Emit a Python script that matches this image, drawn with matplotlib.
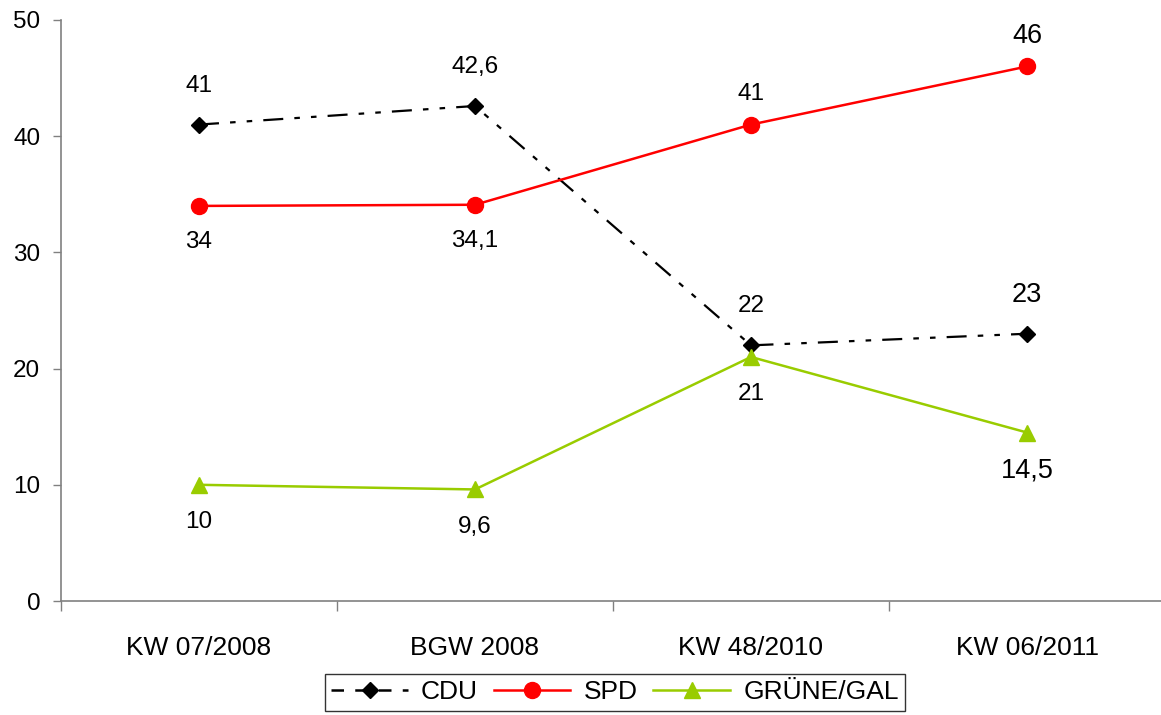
import numpy as np
import matplotlib
matplotlib.use('Agg')
from matplotlib import pyplot as plt
from matplotlib.lines import Line2D

plt.rcParams['font.family'] = ['Liberation Sans', 'DejaVu Sans']

categories = ['KW 07/2008', 'BGW 2008', 'KW 48/2010', 'KW 06/2011']
cdu = [41, 42.6, 22, 23]
spd = [34, 34.1, 41, 46]
gruene = [10, 9.6, 21, 14.5]
cdu_labels = ['41', '42,6', '22', '23']
spd_labels = ['34', '34,1', '41', '46']
gruene_labels = ['10', '9,6', '21', '14,5']

fig = plt.figure(figsize=(11.61, 7.15), dpi=100)
ax = fig.add_axes([61/1161, 114/715, 1104/1161, 581/715])

x = np.arange(len(categories))

l1, = ax.plot(x, cdu, color='black', lw=1.6, marker='D', ms=8.5,
              dashes=(9, 5, 2.5, 5, 2.5, 5), label='CDU')
l2, = ax.plot(x, spd, color='#FF0000', lw=1.8, marker='o', ms=11.5, label='SPD')
l3, = ax.plot(x, gruene, color='#99CC00', lw=1.8, marker='^', ms=11.5, label='GRÜNE/GAL')

# data labels
for i in range(len(x)):
    fs = 19.5 if i == 3 else 17.5
    ax.annotate(cdu_labels[i], (x[i], cdu[i]), xytext=(0, 28), textcoords='offset points',
                ha='center', va='center', fontsize=fs)
    off = -26 if i < 2 else 22
    ax.annotate(spd_labels[i], (x[i], spd[i]), xytext=(0, off), textcoords='offset points',
                ha='center', va='center', fontsize=fs)
    ax.annotate(gruene_labels[i], (x[i], gruene[i]), xytext=(0, -27), textcoords='offset points',
                ha='center', va='center', fontsize=fs)

ax.set_xlim(-0.5, 3.5)
ax.set_ylim(0, 50)
ax.set_yticks([0, 10, 20, 30, 40, 50])
ax.set_xticks(x)
ax.set_xticklabels(categories, fontsize=19)
ax.set_xticks(np.arange(-0.5, 4, 1), minor=True)
ax.tick_params(axis='x', which='major', length=0, pad=25)
ax.tick_params(axis='x', which='minor', length=7, color='#808080', width=1)
ax.tick_params(axis='y', labelsize=17.5, length=6, color='#808080', width=1, pad=9)

for s in ['top', 'right']:
    ax.spines[s].set_visible(False)
for s in ['left', 'bottom']:
    ax.spines[s].set_color('#808080')
    ax.spines[s].set_linewidth(1.2)

# legend shows CDU with plain long dashes
cdu_handle = Line2D([], [], color='black', lw=1.8, marker='D', ms=8.5, dashes=(5, 4.5))
leg = fig.legend(handles=[cdu_handle, l2, l3], labels=['CDU', 'SPD', 'GRÜNE/GAL'],
                 loc='center', bbox_to_anchor=(615/1161, 0.032),
                 ncol=3, fontsize=19, frameon=True, fancybox=False, handlelength=2.9,
                 columnspacing=0.6, handletextpad=0.5, borderpad=0.25)
leg.get_frame().set_edgecolor('black')
leg.get_frame().set_linewidth(1)

fig.savefig('out.png', dpi=100)
